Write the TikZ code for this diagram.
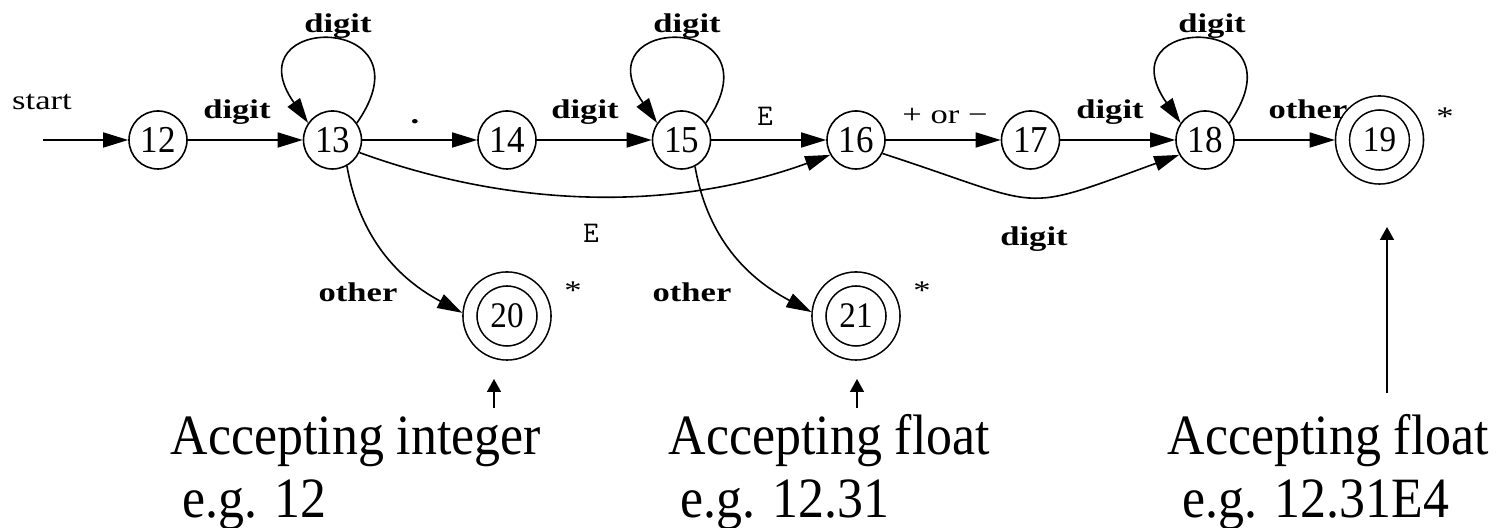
\documentclass[tikz,border=0pt]{standalone}
\usepackage{fontspec}
\setmainfont{Liberation Serif}
\newfontfamily\labfont[FakeStretch=1.28]{Liberation Serif}
\newfontfamily\numfont[FakeStretch=0.92]{Liberation Serif}
\newfontfamily\capfont[FakeStretch=0.91]{Liberation Serif}
\usetikzlibrary{arrows.meta}
\begin{document}
\begin{tikzpicture}[x=0.5pt,y=0.5pt,line width=0.8pt,
  st/.style={circle,draw,minimum size=29pt,inner sep=0pt,
    font=\numfont\fontsize{19pt}{21pt}\selectfont},
  acc/.style={circle,draw,double,double distance=6.2pt,minimum size=37pt,
    inner sep=0pt,outer sep=3.9pt,font=\numfont\fontsize{18pt}{20pt}\selectfont},
  edge/.style={-{Triangle[length=12.5pt,width=7.5pt]}},
  pointer/.style={-{Triangle[length=6.5pt,width=7pt]}},
  lab/.style={anchor=base,inner sep=0pt,
    font=\labfont\bfseries\fontsize{13.5pt}{15pt}\selectfont},
  labr/.style={anchor=base,inner sep=0pt,
    font=\labfont\fontsize{13.5pt}{15pt}\selectfont},
  code/.style={anchor=base,inner sep=0pt,
    font=\ttfamily\fontsize{15pt}{17pt}\selectfont},
  captxt/.style={anchor=base west,inner sep=0pt,
    font=\capfont\fontsize{28.5pt}{32pt}\selectfont}]
\useasboundingbox (0,0) rectangle (1505,528);

% states
\node[st] (n12) at (158,388) {12};
\node[st] (n13) at (332.5,388) {13};
\node[st] (n14) at (507,388) {14};
\node[st] (n15) at (681.5,388) {15};
\node[st] (n16) at (856,388) {16};
\node[st] (n17) at (1030.5,388) {17};
\node[st] (n18) at (1205,388) {18};
\node[acc] (n19) at (1379.5,388) {19};
\node[acc] (n20) at (507,212) {20};
\node[acc] (n21) at (856,212) {21};

% start
\coordinate (s0) at (43,388);
\node[labr] (lstart) at (42,418) {start};
\draw[edge] (s0) -- (n12);

% straight edges
\draw[edge] (n12) -- (n13);
\draw[edge] (n13) -- (n14);
\draw[edge] (n14) -- (n15);
\draw[edge] (n15) -- (n16);
\draw[edge] (n16) -- (n17);
\draw[edge] (n17) -- (n18);
\draw[edge] (n18) -- (n19);

% loops
\draw[edge] (n13.35) .. controls +(55:135) and +(125:135) .. (n13.145);
\draw[edge] (n15.35) .. controls +(55:135) and +(125:135) .. (n15.145);
\draw[edge] (n18.35) .. controls +(55:135) and +(125:135) .. (n18.145);

% curved edges
\draw[edge] (n13.-25) .. controls +(-20:165) and +(-160:165) .. (n16.-150);
\draw[edge] (n16.-27) .. controls +(-18:175) and +(-160:175) .. (n18.-150);
\draw[edge] (n13.-61) to[out=-80,in=152] (n20.176);
\draw[edge] (n15.-63) to[out=-80,in=152] (n21.175);

% edge labels
\node[lab] (l1213) at (237,409) {digit};
\node[lab] (l1314) at (415,404) {.};
\node[lab] (l1415) at (585,409) {digit};
\node[code] (l1516) at (765,402) {E};
\node[labr] (l1617) at (945,404) {+ or −};
\node[lab] (l1718) at (1110,409) {digit};
\node[lab] (l1819) at (1308,409) {other};
\node[lab] (loop13) at (338,495) {digit};
\node[lab] (loop15) at (687,495) {digit};
\node[lab] (loop18) at (1212,495) {digit};
\node[code] (l1316) at (591,285) {E};
\node[lab] (l1618) at (1034,282) {digit};
\node[lab] (l1320) at (358,226) {other};
\node[lab] (l1521) at (692,226) {other};

% retract marks
\node[labr] (st20) at (573,228) {*};
\node[labr] (st21) at (922,228) {*};
\node[labr] (st19) at (1445,402) {*};

% captions
\node[captxt] (c1) at (170,73) {Accepting integer};
\node[captxt] (c1b) at (182,10) {e.g. 12};
\node[captxt] (c2) at (668,73) {Accepting float};
\node[captxt] (c2b) at (680,10) {e.g. 12.31};
\node[captxt] (c3) at (1167,73) {Accepting float};
\node[captxt] (c3b) at (1182,10) {e.g. 12.31E4};

% pointers
\coordinate (p20s) at (494,120);
\coordinate (p20e) at (494,149);
\coordinate (p21s) at (857,120);
\coordinate (p21e) at (857,149);
\coordinate (p19s) at (1387,135);
\coordinate (p19e) at (1387,301);
\draw[pointer] (p20s) -- (p20e);
\draw[pointer] (p21s) -- (p21e);
\draw[pointer] (p19s) -- (p19e);
\end{tikzpicture}
\end{document}
